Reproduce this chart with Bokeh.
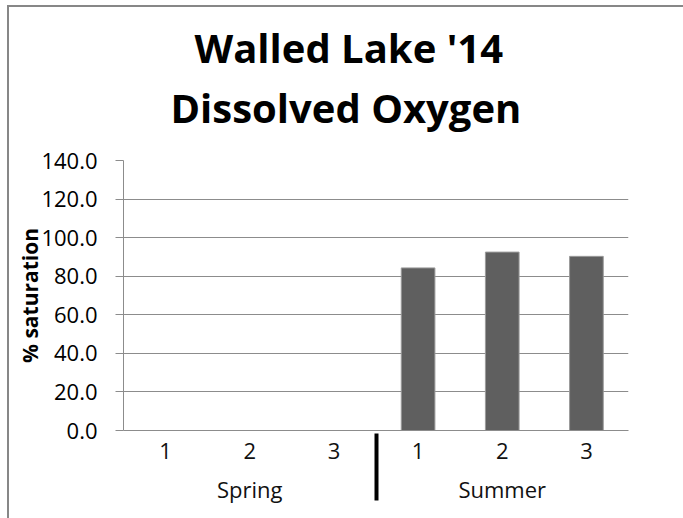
from bokeh.plotting import figure
from bokeh.models import (FactorRange, Range1d, FixedTicker, NumeralTickFormatter,
                          ColumnDataSource, Title)
from bokeh.embed import file_html
from bokeh.resources import INLINE

seasons = ["Spring", "Spring", "Spring", "Summer", "Summer", "Summer"]
samples = ["1", "2", "3", "1", "2", "3"]
saturation = [None, None, None, 84.3, 92.5, 90.3]
y_ticks = [0, 20, 40, 60, 80, 100, 120, 140]
y_max = 140
title_lines = ["Walled Lake '14", "Dissolved Oxygen"]
y_label = "% saturation"

FONT = "Open Sans"
GRID = "#8c8c8c"
BORDER = "#878787"

factors = list(zip(seasons, samples))
xs = [f for f, v in zip(factors, saturation) if v is not None]
tops = [v for v in saturation if v is not None]
src = ColumnDataSource(dict(x=xs, top=tops))

p = figure(
    x_range=FactorRange(factors=factors, group_padding=0, range_padding=0),
    y_range=Range1d(0, y_max),
    frame_width=505, frame_height=270,
    min_border_left=114, min_border_right=55, min_border_top=153, min_border_bottom=88,
    output_backend="svg", toolbar_location=None,
    background_fill_color="white", border_fill_color="white",
    title=None,
)
p.styles = {"border-top": f"2px solid {BORDER}", "border-left": f"2px solid {BORDER}",
            "border-right": "none", "border-bottom": "none",
            "margin-left": "7px", "margin-top": "5px"}
p.outline_line_color = None

# title: two centred lines (second line added first = closest to the frame)
title_offsets = [71, 47]
title_standoffs = [-46, 52]
for line, off, so in reversed(list(zip(title_lines, title_offsets, title_standoffs))):
    p.add_layout(Title(text=line, align="left", offset=off, standoff=so,
                       text_font=FONT, text_font_size="40px", text_font_style="bold",
                       text_color="black"), "above")

p.vbar(x="x", top="top", width=0.4, source=src, fill_color="#5f5f5f",
       line_color="#9a9a9a", line_width=1)

# y axis
ya = p.yaxis[0]
ya.ticker = FixedTicker(ticks=y_ticks)
ya.formatter = NumeralTickFormatter(format="0.0")
ya.axis_line_color = GRID
ya.major_tick_line_color = GRID
ya.major_tick_out = 8
ya.major_tick_in = 0
ya.minor_tick_line_color = None
ya.major_label_text_font = FONT
ya.major_label_text_font_size = "22px"
ya.major_label_text_color = "black"
ya.major_label_standoff = 18
ya.axis_label = y_label
ya.axis_label_text_font = FONT
ya.axis_label_text_font_size = "21px"
ya.axis_label_text_font_style = "bold"
ya.axis_label_text_color = "black"
ya.axis_label_standoff = -6

# x axis
xa = p.xaxis[0]
xa.axis_line_color = GRID
xa.major_tick_line_color = None
xa.major_tick_out = 0
xa.major_tick_in = 0
xa.minor_tick_line_color = None
xa.major_label_text_font = FONT
xa.major_label_text_font_size = "22px"
xa.major_label_text_color = "#111111"
xa.major_label_standoff = 12
xa.group_text_font = FONT
xa.group_text_font_size = "22px"
xa.group_text_font_style = "normal"
xa.group_text_color = "#111111"
xa.separator_line_color = "black"
xa.separator_line_width = 4

p.xgrid.grid_line_color = None
p.ygrid.grid_line_color = GRID
p.ygrid.grid_line_width = 1

open("out.html", "w").write(file_html(p, INLINE))
